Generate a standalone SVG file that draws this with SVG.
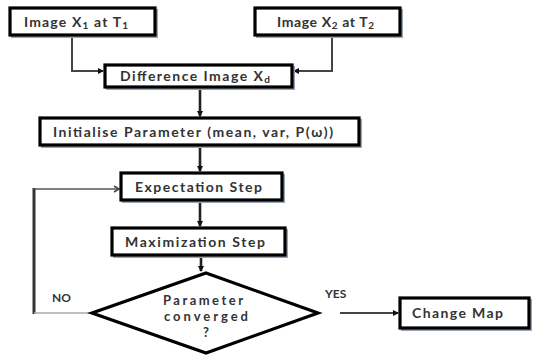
<svg xmlns="http://www.w3.org/2000/svg" width="536" height="355" viewBox="0 0 536 355">
<defs>
<marker id="ah" markerWidth="6" markerHeight="6" refX="5" refY="3" orient="auto" markerUnits="userSpaceOnUse">
<path d="M0,0 L6,3 L0,6 Z" fill="#111"/>
</marker>
<marker id="open" markerWidth="8" markerHeight="8" refX="6" refY="4" orient="auto" markerUnits="userSpaceOnUse">
<path d="M1,1 L6,4 L1,7" fill="none" stroke="#444" stroke-width="1.5"/>
</marker>
</defs>
<style>
.box{fill:#fff;stroke:#000;stroke-width:3.2}
.sh{fill:none;stroke:#9aa4b8;stroke-width:2}
.t{font-family:Lato,"Open Sans",sans-serif;font-size:14px;fill:#333;font-weight:bold}
.d{font-size:13px}
.sub{font-size:10px}
.ln{fill:none;stroke:#222;stroke-width:2.6}
.lt{fill:none;stroke:#444;stroke-width:2}
</style>
<rect width="536" height="355" fill="#fff"/>
<g id="connectors">
<path class="lt" d="M72,35 V71 H103" marker-end="url(#ah)"/>
<path class="lt" d="M332,35 V71 H294" marker-end="url(#ah)"/>
<path class="ln" d="M200,87 V116" marker-end="url(#ah)"/>
<path class="ln" d="M200,145 V171" marker-end="url(#ah)"/>
<path class="ln" d="M200,200 V226" marker-end="url(#ah)"/>
<path class="ln" d="M201,255 V271" marker-end="url(#ah)"/>
<path fill="none" stroke="#333" stroke-width="3" d="M34,188 V314"/>
<path fill="none" stroke="#555" stroke-width="1.6" d="M34,189 H119" marker-end="url(#open)"/>
<path fill="none" stroke="#aaa" stroke-width="1.6" d="M34,313 H92"/>
<path class="lt" d="M340,313 H398" marker-end="url(#ah)"/>
<text class="t" x="52" y="302" style="font-size:12px">NO</text>
<text class="t" x="325" y="298" style="font-size:12px">YES</text>
</g>
<g id="n1">
<rect class="sh" x="12" y="10" width="145" height="27"/>
<rect class="box" x="10" y="8" width="145" height="27"/>
<text class="t" x="24" y="27" textLength="104">Image X<tspan class="sub" dy="2">1</tspan><tspan dy="-2"> at T</tspan><tspan class="sub" dy="2">1</tspan></text>
</g>
<g id="n2">
<rect class="sh" x="257" y="10" width="145" height="27"/>
<rect class="box" x="255" y="8" width="145" height="27"/>
<text class="t" x="277" y="27" textLength="97">Image X<tspan class="sub" dy="2">2</tspan><tspan dy="-2"> at T</tspan><tspan class="sub" dy="2">2</tspan></text>
</g>
<g id="n3">
<rect class="sh" x="107" y="67" width="187" height="22"/>
<rect class="box" x="105" y="65" width="187" height="22"/>
<text class="t" x="120" y="81" textLength="150">Difference Image X<tspan class="sub" dy="2">d</tspan></text>
</g>
<g id="n4">
<rect class="sh" x="42" y="120" width="319" height="27"/>
<rect class="box" x="40" y="118" width="319" height="27"/>
<text class="t" x="53" y="137" textLength="280">Initialise Parameter (mean, var, P(ω))</text>
</g>
<g id="n5">
<rect class="sh" x="123" y="175" width="161" height="27"/>
<rect class="box" x="121" y="173" width="161" height="27"/>
<text class="t" x="135" y="192" textLength="127">Expectation Step</text>
</g>
<g id="n6">
<rect class="sh" x="114" y="230" width="173" height="27"/>
<rect class="box" x="112" y="228" width="173" height="27"/>
<text class="t" x="125" y="247" textLength="140">Maximization Step</text>
</g>
<g id="n7">
<path d="M206,273 L318,313 L206,353 L92,313 Z" fill="#fff" stroke="#000" stroke-width="3.2" stroke-linejoin="miter"/>
<text class="t d" x="203" y="305" text-anchor="middle" textLength="80">Parameter</text>
<text class="t d" x="206" y="321" text-anchor="middle" textLength="84">converged</text>
<text class="t d" x="206" y="337" text-anchor="middle">?</text>
</g>
<g id="n8">
<rect class="sh" x="402" y="300" width="129" height="30"/>
<rect class="box" x="400" y="298" width="129" height="30"/>
<text class="t" x="412" y="318" textLength="91">Change Map</text>
</g>
</svg>
